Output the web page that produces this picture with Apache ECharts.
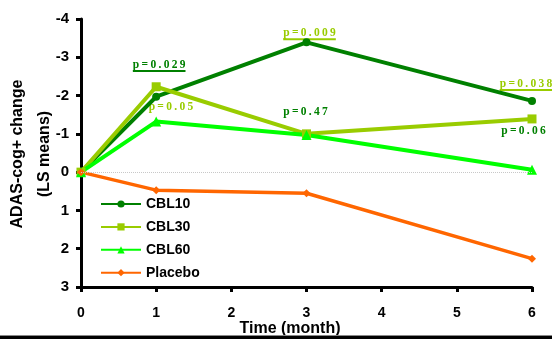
<!DOCTYPE html>
<html>
<head>
<meta charset="utf-8">
<script src="https://cdn.jsdelivr.net/npm/echarts@6/dist/echarts.min.js"></script>
<style>
  html, body { margin: 0; padding: 0; background: #fff; }
  #grafica { width: 552px; height: 339px; }
</style>
</head>
<body>
<div id="grafica"></div>
<script>
// Datos (cambio ADAS-cog+, LS means)
const meses = [0, 1, 3, 6];
const cbl10 = [0, -1.97, -3.39, -1.86];
const cbl30 = [0, -2.23, -1.0, -1.39];
const cbl60 = [0, -1.32, -0.97, -0.06];
const placebo = [0, 0.47, 0.55, 2.26];

// Etiquetas de p-valor: texto, posicion en coordenadas de datos, color, subrayado
const pTextos = ['p=0.029', 'p=0.05', 'p=0.009', 'p=0.47', 'p=0.038', 'p=0.06'];
const pMes = [0.69, 0.90, 2.69, 2.69, 5.57, 5.59];
const pValor = [-2.80, -1.70, -3.63, -1.57, -2.30, -1.08];
const pColor = ['#008000', '#99cc00', '#99cc00', '#008000', '#99cc00', '#008000'];
const pSubrayado = [true, false, true, false, true, false];

const pares = vals => meses.map((m, i) => [m, vals[i]]);

const myChart = echarts.init(document.getElementById('grafica'));

const fuenteEje = { fontFamily: 'Arial', fontWeight: 'bold', fontSize: 14, color: '#000' };

let option = {
    animation: false,
    grid: { left: 81, right: 20, top: 19, bottom: 52, containLabel: false, outerBoundsMode: 'none' },
    legend: {
        orient: 'vertical',
        left: 95,
        top: 192,
        itemWidth: 40,
        itemHeight: 9,
        itemGap: 8.9,
        textStyle: { fontFamily: 'Arial', fontWeight: 'bold', fontSize: 14, color: '#000' },
        data: ['CBL10', 'CBL30', 'CBL60', 'Placebo']
    },
    xAxis: {
        type: 'value',
        min: 0,
        max: 6,
        interval: 1,
        axisLine: { onZero: false, lineStyle: { color: '#000', width: 3 } },
        axisTick: { length: 5, lineStyle: { color: '#000', width: 3 } },
        axisLabel: Object.assign({ margin: 19 }, fuenteEje),
        splitLine: { show: false }
    },
    yAxis: {
        type: 'value',
        inverse: true,
        min: -4,
        max: 3,
        interval: 1,
        axisLine: { onZero: false, lineStyle: { color: '#000', width: 3 } },
        axisTick: { length: 5, lineStyle: { color: '#000', width: 3 } },
        axisLabel: Object.assign({ margin: 12 }, fuenteEje, { fontSize: 15 }),
        splitLine: { show: false }
    },
    series: [
        {
            name: 'CBL10', type: 'line', data: pares(cbl10),
            symbol: 'circle', symbolSize: 8,
            lineStyle: { color: '#008000', width: 4 },
            itemStyle: { color: '#008000' },
            markLine: {
                silent: true, symbol: 'none', label: { show: false },
                lineStyle: { color: '#c8c8c8', type: 'dotted', width: 1 },
                data: [{ yAxis: 0 }]
            }
        },
        {
            name: 'CBL30', type: 'line', data: pares(cbl30),
            symbol: 'rect', symbolSize: 9,
            lineStyle: { color: '#99cc00', width: 4 },
            itemStyle: { color: '#99cc00' }
        },
        {
            name: 'CBL60', type: 'line', data: pares(cbl60),
            symbol: 'triangle', symbolSize: 10,
            lineStyle: { color: '#00ff00', width: 4 },
            itemStyle: { color: '#00ff00' }
        },
        {
            name: 'Placebo', type: 'line', data: pares(placebo),
            symbol: 'diamond', symbolSize: 8,
            lineStyle: { color: '#ff6600', width: 3.5 },
            itemStyle: { color: '#ff6600' }
        }
    ]
};

myChart.setOption(option);

// Etiquetas p con espaciado entre letras y subrayado opcional
const fuenteP = 'bold 11.5px "Liberation Serif", "Times New Roman", serif';
const ctx = document.createElement('canvas').getContext('2d');
ctx.font = fuenteP;

const graficos = pTextos.map((t, i) => {
    const texto = t.split('').join('\u2009');
    const pos = myChart.convertToPixel({ gridIndex: 0 }, [pMes[i], pValor[i]]);
    const ancho = ctx.measureText(texto).width;
    const hijos = [{
        type: 'text', x: 0, y: 0,
        style: { text: texto, font: fuenteP, fill: pColor[i], verticalAlign: 'middle', align: 'left' }
    }];
    if (pSubrayado[i]) {
        hijos.push({ type: 'rect', shape: { x: 0, y: 5, width: ancho, height: 2 }, style: { fill: pColor[i] } });
    }
    return { type: 'group', x: pos[0], y: pos[1], children: hijos, silent: true };
});

// Titulo del eje Y (dos lineas, girado)
graficos.push({
    type: 'text', x: 31, y: 154, rotation: Math.PI / 2, silent: true,
    style: {
        text: 'ADAS-cog+ change\n(LS means)',
        font: 'bold 16px Arial', lineHeight: 27, fill: '#000',
        align: 'center', verticalAlign: 'middle'
    }
});

// Titulo del eje X (queda cortado por la linea inferior, como en el original)
graficos.push({
    type: 'text', x: 290, y: 329, silent: true,
    style: {
        text: 'Time (month)',
        font: 'bold 16px Arial', fill: '#000',
        align: 'center', verticalAlign: 'middle'
    }
});

// Linea inferior del marco
graficos.push({ type: 'rect', left: 0, bottom: 0, z: 10, shape: { width: 552, height: 3 }, style: { fill: '#000' } });
graficos.push({ type: 'rect', left: 0, bottom: 3, z: 10, shape: { width: 552, height: 1 }, style: { fill: '#888' } });

myChart.setOption({ graphic: graficos });
</script>
</body>
</html>
